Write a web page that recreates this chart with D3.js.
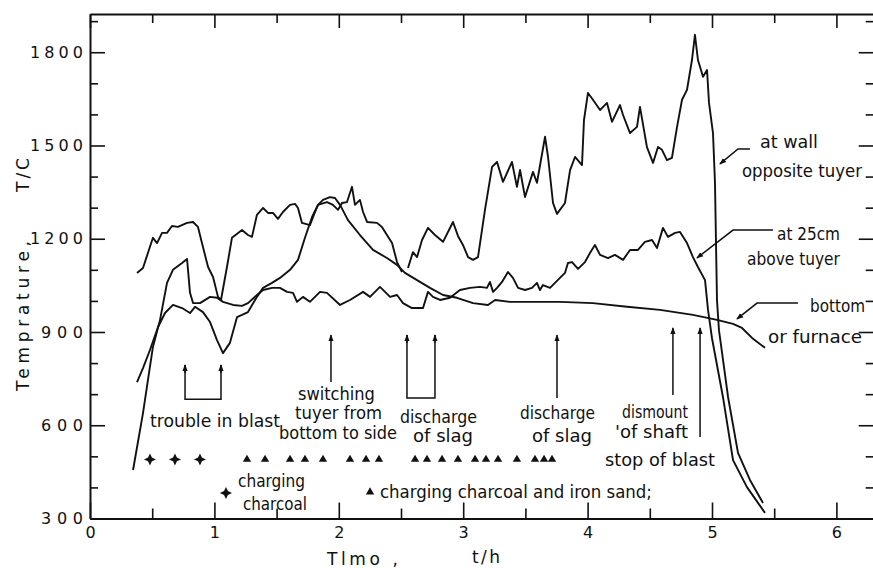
<!DOCTYPE html>
<html>
<head>
<meta charset="utf-8">
<script src="https://cdn.jsdelivr.net/npm/d3@7"></script>
<style>
  html, body { margin: 0; padding: 0; background: #fff; }
  svg { display: block; }
  .note { font-family: "DejaVu Sans Condensed", "DejaVu Sans", sans-serif; font-size: 17px; fill: #111; }
  .tick text { font-family: "DejaVu Sans", sans-serif; font-size: 16px; fill: #111; }
  .title { font-family: "DejaVu Sans", sans-serif; font-size: 17px; fill: #111; }
</style>
</head>
<body>
<div id="chart"></div>
<script>
// temperature vs time ([time h, T degC])
const wallOpposite = [
  [0.378,1090],[0.426,1106],[0.482,1174],[0.506,1203],[0.539,1186],[0.579,1219],[0.619,1219],
  [0.659,1241],[0.707,1238],[0.780,1251],[0.828,1254],[0.868,1238],[0.900,1186],[0.949,1109],
  [0.989,1077],[1.029,1013],[1.053,1003],[1.101,1109],[1.141,1203],[1.222,1228],[1.270,1212],
  [1.302,1206],[1.342,1277],[1.391,1299],[1.431,1283],[1.471,1283],[1.511,1264],[1.551,1286],
  [1.608,1309],[1.648,1312],[1.672,1299],[1.704,1251],[1.768,1244],[1.809,1286],[1.833,1309],
  [1.905,1318],[1.953,1309],[1.994,1293],[2.026,1315],[2.066,1318],[2.106,1367],[2.130,1309],
  [2.170,1325],[2.195,1286],[2.227,1254],[2.307,1251],[2.347,1238],[2.387,1212],[2.428,1186],
  [2.468,1125],[2.508,1093],
  [2.530,null], // break in the record
  [2.556,1106],[2.596,1157],[2.629,1141],[2.669,1196],[2.717,1235],[2.773,1212],[2.838,1190],
  [2.918,1254],[2.958,1209],[2.998,1180],[3.039,1141],[3.079,1132],[3.119,1141],[3.175,1293],
  [3.232,1431],[3.272,1447],[3.320,1383],[3.392,1447],[3.432,1367],[3.457,1421],[3.497,1334],
  [3.561,1415],[3.593,1380],[3.658,1528],[3.682,1463],[3.722,1315],[3.754,1280],[3.818,1315],
  [3.859,1421],[3.899,1463],[3.955,1437],[3.971,1582],[4.003,1669],[4.043,1647],[4.100,1614],
  [4.156,1637],[4.196,1576],[4.260,1630],[4.285,1598],[4.341,1540],[4.397,1560],[4.421,1624],
  [4.477,1495],[4.526,1444],[4.566,1495],[4.598,1486],[4.638,1453],[4.678,1460],[4.719,1560],
  [4.759,1647],[4.799,1679],[4.839,1775],[4.863,1856],[4.887,1775],[4.928,1721],[4.960,1743],
  [4.976,1637],[5.008,1540],[5.024,1380],[5.040,1003],[5.056,906],[5.129,691],[5.209,511],
  [5.305,424],[5.410,350]
];

const above25cm = [
  [0.346,456],[0.426,639],[0.466,746],[0.506,852],[0.563,939],[0.619,1058],[0.667,1100],
  [0.740,1122],[0.780,1135],[0.804,1026],[0.828,993],[0.884,993],[0.965,1013],[1.021,1010],
  [1.069,997],[1.150,987],[1.222,984],[1.270,993],[1.342,1019],[1.391,1035],[1.463,1042],
  [1.527,1042],[1.584,1029],[1.632,1026],[1.664,997],[1.712,1013],[1.768,997],[1.849,1029],
  [1.905,1026],[2.010,987],[2.090,1003],[2.195,1029],[2.251,1013],[2.331,1045],[2.412,1013],
  [2.468,1019],[2.516,993],[2.588,977],[2.677,977],[2.717,1029],[2.757,1013],[2.814,1003],
  [2.894,1010],[2.974,1035],[3.055,1042],[3.135,1045],[3.191,1042],[3.215,1061],[3.240,1029],
  [3.272,1042],[3.312,1061],[3.360,1093],[3.400,1074],[3.441,1042],[3.497,1035],[3.553,1042],
  [3.593,1058],[3.617,1035],[3.641,1051],[3.698,1042],[3.738,1058],[3.778,1074],[3.818,1090],
  [3.842,1122],[3.875,1125],[3.923,1103],[3.979,1125],[4.019,1154],[4.059,1180],[4.100,1148],
  [4.164,1138],[4.220,1148],[4.285,1132],[4.341,1164],[4.405,1164],[4.461,1190],[4.518,1196],
  [4.558,1170],[4.606,1235],[4.646,1206],[4.703,1219],[4.743,1222],[4.799,1186],[4.847,1141],
  [4.887,1109],[4.944,1067],[4.968,971],[5.000,880],[5.088,691],[5.169,488],[5.281,401],
  [5.426,318]
];

const furnaceBottom = [
  [0.378,739],[0.426,784],[0.482,842],[0.547,916],[0.603,961],[0.667,987],[0.740,977],
  [0.804,961],[0.844,981],[0.908,964],[0.965,932],[1.021,874],[1.069,832],[1.125,865],
  [1.182,948],[1.222,955],[1.270,964],[1.342,1013],[1.391,1042],[1.463,1058],[1.527,1074],
  [1.608,1100],[1.672,1132],[1.728,1203],[1.785,1270],[1.833,1309],[1.873,1325],[1.929,1334],
  [1.969,1331],[2.010,1309],[2.074,1260],[2.170,1212],[2.275,1164],[2.387,1138],[2.468,1116],
  [2.532,1090],[2.629,1067],[2.733,1042],[2.838,1019],[2.950,1010],[3.079,993],[3.199,987],
  [3.256,1003],[3.376,997],[3.778,997],[4.043,993],[4.317,981],[4.582,971],[4.847,955],
  [5.040,939],[5.169,926],[5.241,913],[5.322,881],[5.426,849]
];

// charging events (time h)
const charcoalTimes = [0.482, 0.683, 0.884];
const ironSandTimes = [1.262, 1.407, 1.608, 1.728, 1.873, 2.090, 2.219, 2.323, 2.613, 2.709,
  2.830, 2.958, 3.095, 3.183, 3.280, 3.432, 3.577, 3.650, 3.714];
const chargeLevel = 490;

// event arrows: [time, from T, to T]
const eventArrows = [[1.937, 739, 890], [3.754, 688, 890], [4.686, 697, 913], [4.904, 562, 913]];
// bracketed events: [t0, t1, bottom T, top T]
const eventBrackets = [[0.764, 1.053, 684, 794], [2.548, 2.773, 688, 890]];

// labels: [text, time, T, width px]
const eventLabels = [
  ["trouble in blast", 1.005, 594, 130],
  ["switching", 1.981, 681, 77],
  ["tuyer from", 1.998, 620, 87],
  ["bottom to side", 1.994, 555, 118],
  ["discharge", 2.801, 607, 77],
  ["of slag", 2.838, 546, 60],
  ["discharge", 3.758, 620, 75],
  ["of slag", 3.794, 546, 60],
  ["dismount", 4.542, 623, 66],
  ["'of shaft", 4.514, 558, 73],
  ["stop of blast", 4.582, 469, 110],
  ["charging", 1.459, 401, 67],
  ["charcoal", 1.487, 327, 64],
  ["charging charcoal and iron sand;", 3.424, 366, 272]
];
const seriesLabels = [
  ["at wall", 5.619, 1492, 58],
  ["opposite tuyer", 5.723, 1399, 120],
  ["at 25cm", 5.776, 1196, 63],
  ["above tuyer", 5.655, 1116, 93],
  ["bottom", 6.009, 964, 55],
  ["or furnace", 5.828, 865, 94]
];
const leaders = [
  [[5.305,1489],[5.209,1489],[5.064,1441]],
  [[5.490,1228],[5.169,1228],[4.879,1138]],
  [[5.691,993],[5.362,993],[5.201,942]]
];

const hourTicks = [0, 1, 2, 3, 4, 5, 6];
const halfHourTicks = [0.5, 1.5, 2.5, 3.5, 4.5, 5.5];
const tempTicks = [300, 600, 900, 1200, 1500, 1800];
const tempMinorTicks = [400, 500, 700, 800, 1000, 1100, 1300, 1400, 1600, 1700, 1900];

const width = 873, height = 568;
const ink = "#111";

const svg = d3.select("#chart").append("svg")
    .attr("width", width)
    .attr("height", height);

const x = d3.scaleLinear().domain([0, 6.3]).range([90, 90 + 6.3 * 124.4]);
const y = d3.scaleLinear().domain([300, 1923]).range([518.5, 14]);

const defs = svg.append("defs");
defs.append("marker")
    .attr("id", "head")
    .attr("viewBox", "0 -4 8 8")
    .attr("refX", 7).attr("refY", 0)
    .attr("markerUnits", "userSpaceOnUse")
    .attr("markerWidth", 7).attr("markerHeight", 7)
    .attr("orient", "auto")
    .append("path")
    .attr("d", "M0,-3L8,0L0,3Z")
    .attr("fill", ink);

// axes, all ticks pointing inwards
function styleAxis(g) {
    g.select(".domain").attr("stroke", ink).attr("stroke-width", 2);
    g.selectAll(".tick line").attr("stroke", ink).attr("stroke-width", 1.6);
}
const bottomY = y(300), topY = y(1923), leftX = x(0), rightX = x(6.3);

svg.append("g").attr("transform", `translate(0,${bottomY})`)
    .call(d3.axisBottom(x).tickValues(hourTicks).tickSize(-16).tickSizeOuter(0).tickPadding(8).tickFormat(d3.format("d")))
    .call(styleAxis);
svg.append("g").attr("transform", `translate(0,${bottomY})`)
    .call(d3.axisBottom(x).tickValues(halfHourTicks).tickSize(-10).tickFormat(""))
    .call(g => g.select(".domain").remove()).call(styleAxis);

svg.append("g").attr("transform", `translate(0,${topY})`)
    .call(d3.axisTop(x).tickValues(hourTicks).tickSize(-14).tickSizeOuter(0).tickFormat(""))
    .call(styleAxis);
svg.append("g").attr("transform", `translate(0,${topY})`)
    .call(d3.axisTop(x).tickValues(halfHourTicks).tickSize(-9).tickFormat(""))
    .call(g => g.select(".domain").remove()).call(styleAxis);

svg.append("g").attr("transform", `translate(${leftX},0)`)
    .call(d3.axisLeft(y).tickValues(tempTicks).tickSize(-15).tickSizeOuter(0).tickPadding(7).tickFormat(d3.format("d")))
    .call(styleAxis)
    .call(g => g.selectAll(".tick text")
        .attr("textLength", d => d >= 1000 ? 53 : 42)
        .attr("lengthAdjust", "spacing"));
svg.append("g").attr("transform", `translate(${leftX},0)`)
    .call(d3.axisLeft(y).tickValues(tempMinorTicks).tickSize(-8).tickFormat(""))
    .call(g => g.select(".domain").remove()).call(styleAxis);

svg.append("g").attr("transform", `translate(${rightX},0)`)
    .call(d3.axisRight(y).tickValues(tempTicks).tickSize(-15).tickSizeOuter(0).tickFormat(""))
    .call(styleAxis);
svg.append("g").attr("transform", `translate(${rightX},0)`)
    .call(d3.axisRight(y).tickValues(tempMinorTicks).tickSize(-8).tickFormat(""))
    .call(g => g.select(".domain").remove()).call(styleAxis);

// axis titles
svg.append("text").attr("class", "title")
    .attr("transform", "translate(29,316) rotate(-90)")
    .attr("text-anchor", "middle")
    .attr("textLength", 150).attr("lengthAdjust", "spacing")
    .text("Temprature,");
svg.append("text").attr("class", "title")
    .attr("transform", "translate(29,175) rotate(-90)")
    .attr("text-anchor", "middle")
    .attr("textLength", 34).attr("lengthAdjust", "spacing")
    .text("T/C");
svg.append("text").attr("class", "title")
    .attr("x", 327).attr("y", 565)
    .attr("textLength", 71).attr("lengthAdjust", "spacing")
    .text("Tlmo ,");
svg.append("text").attr("class", "title")
    .attr("x", 472).attr("y", 563)
    .attr("textLength", 28).attr("lengthAdjust", "spacing")
    .text("t/h");

// curves
const line = d3.line()
    .defined(d => d[1] !== null)
    .x(d => x(d[0]))
    .y(d => y(d[1]));

[wallOpposite, above25cm, furnaceBottom].forEach(series => {
    svg.append("path")
        .datum(series)
        .attr("fill", "none")
        .attr("stroke", ink)
        .attr("stroke-width", 1.9)
        .attr("stroke-linejoin", "round")
        .attr("d", line);
});

// event arrows and brackets
svg.selectAll(".event-arrow")
    .data(eventArrows)
    .enter().append("line")
    .attr("x1", d => x(d[0])).attr("x2", d => x(d[0]))
    .attr("y1", d => y(d[1])).attr("y2", d => y(d[2]))
    .attr("stroke", ink).attr("stroke-width", 1.5)
    .attr("marker-end", "url(#head)");

const brackets = svg.selectAll(".bracket").data(eventBrackets).enter().append("g");
brackets.append("path")
    .attr("d", d => `M${x(d[0])},${y(d[3])}V${y(d[2])}H${x(d[1])}V${y(d[3])}`)
    .attr("fill", "none").attr("stroke", ink).attr("stroke-width", 1.5);
brackets.each(function(d) {
    [d[0], d[1]].forEach(t => {
        d3.select(this).append("line")
            .attr("x1", x(t)).attr("x2", x(t))
            .attr("y1", y(d[3]) + 8).attr("y2", y(d[3]))
            .attr("stroke", ink).attr("stroke-width", 1.5)
            .attr("marker-end", "url(#head)");
    });
});

// charging markers
const star4 = {
    draw(ctx, size) {
        const r = Math.sqrt(size) * 0.9, s = r * 0.32;
        ctx.moveTo(0, -r); ctx.lineTo(s, -s); ctx.lineTo(r, 0); ctx.lineTo(s, s);
        ctx.lineTo(0, r); ctx.lineTo(-s, s); ctx.lineTo(-r, 0); ctx.lineTo(-s, -s);
        ctx.closePath();
    }
};
svg.selectAll(".charcoal")
    .data(charcoalTimes.map(t => [t, chargeLevel]).concat([[1.093, 382]]))
    .enter().append("path")
    .attr("transform", d => `translate(${x(d[0])},${y(d[1])})`)
    .attr("d", d3.symbol().type(star4).size(45))
    .attr("fill", ink);

svg.selectAll(".ironsand")
    .data(ironSandTimes.map(t => [t, chargeLevel]).concat([[2.251, 385]]))
    .enter().append("path")
    .attr("transform", d => `translate(${x(d[0])},${y(d[1])})`)
    .attr("d", d3.symbol().type(d3.symbolTriangle).size(30))
    .attr("fill", ink);

// text annotations
svg.selectAll(".event-label")
    .data(eventLabels.concat(seriesLabels))
    .enter().append("text")
    .attr("class", "note")
    .attr("x", d => x(d[1])).attr("y", d => y(d[2]))
    .attr("text-anchor", "middle")
    .attr("textLength", d => d[3]).attr("lengthAdjust", "spacingAndGlyphs")
    .text(d => d[0]);

svg.selectAll(".leader")
    .data(leaders)
    .enter().append("path")
    .attr("d", d3.line().x(d => x(d[0])).y(d => y(d[1])))
    .attr("fill", "none").attr("stroke", ink).attr("stroke-width", 1.5)
    .attr("marker-end", "url(#head)");
</script>
</body>
</html>
